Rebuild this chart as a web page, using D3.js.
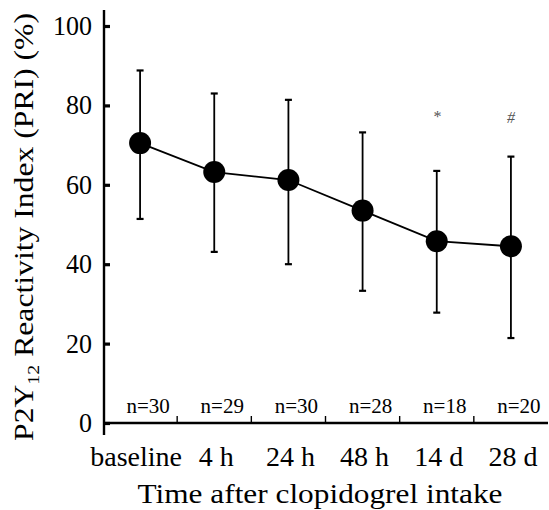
<!DOCTYPE html>
<html>
<head>
<meta charset="utf-8">
<script src="https://cdn.jsdelivr.net/npm/d3@7/dist/d3.min.js"></script>
<style>
  html, body { margin: 0; padding: 0; background: #fff; }
  svg { display: block; font-family: "Liberation Serif", "Times New Roman", "DejaVu Serif", serif; }
</style>
</head>
<body>
<svg id="chart" width="549" height="510"></svg>
<script>
// PRI over time after clopidogrel intake (mean ± SD)
const categories = ['baseline', '4 h', '24 h', '48 h', '14 d', '28 d'];
const means = [70.5, 63.2, 61.2, 53.5, 45.8, 44.5];
const upper = [88.8, 83.0, 81.4, 73.2, 63.5, 67.1];
const lower = [51.4, 43.1, 40.0, 33.3, 27.8, 21.4];
const nLabels = ['n=30', 'n=29', 'n=30', 'n=28', 'n=18', 'n=20'];
const marks = ['', '', '', '', '*', '#'];
const yTicks = [0, 20, 40, 60, 80, 100];

const svg = d3.select('#chart');
const x = d3.scaleBand().domain(categories).range([103, 548]);
const y = d3.scaleLinear().domain([0, 100]).range([423, 26]);
const cx = c => x(c) + x.bandwidth() / 2;

// axes lines
svg.append('line').attr('x1', 104).attr('x2', 104).attr('y1', 10).attr('y2', 435)
  .attr('stroke', '#000').attr('stroke-width', 2.4);
svg.append('line').attr('x1', 103).attr('x2', 548).attr('y1', y(0)).attr('y2', y(0))
  .attr('stroke', '#000').attr('stroke-width', 2.6);

// y ticks (inward)
const yAxis = d3.axisRight(y).tickValues(yTicks).tickSize(6).tickFormat('');
svg.append('g').attr('transform', 'translate(104,0)').call(yAxis)
  .call(g => g.select('.domain').remove())
  .call(g => g.selectAll('line').attr('stroke-width', 3.2));
svg.append('g').selectAll('text').data(yTicks).enter().append('text')
  .attr('x', 92).attr('y', d => y(d) + 9).attr('text-anchor', 'end')
  .attr('font-size', 27).attr('textLength', d => 13 * String(d).length).attr('lengthAdjust', 'spacingAndGlyphs')
  .text(d => d);

// x separators between groups (small upward ticks)
svg.append('g').selectAll('line').data(categories.slice(1)).enter().append('line')
  .attr('x1', d => x(d)).attr('x2', d => x(d)).attr('y1', y(0)).attr('y2', y(0) - 7)
  .attr('stroke', '#000').attr('stroke-width', 1.4);

// category labels
svg.append('g').selectAll('text').data(categories).enter().append('text')
  .attr('x', (d, i) => cx(d) + (i === 0 ? -4 : 2)).attr('y', 466).attr('text-anchor', 'middle')
  .attr('font-size', 28).text(d => d);

// n labels
svg.append('g').selectAll('text').data(nLabels).enter().append('text')
  .attr('x', (d, i) => cx(categories[i]) + 8).attr('y', 413).attr('text-anchor', 'middle')
  .attr('font-size', 21).text(d => d);

// error bars
const eb = svg.append('g').attr('stroke', '#000');
categories.forEach((c, i) => {
  eb.append('line').attr('x1', cx(c)).attr('x2', cx(c)).attr('y1', y(upper[i])).attr('y2', y(lower[i])).attr('stroke-width', 1.8);
  [upper[i], lower[i]].forEach(v => eb.append('line').attr('x1', cx(c) - 3.5).attr('x2', cx(c) + 3.5).attr('y1', y(v)).attr('y2', y(v)).attr('stroke-width', 2.2));
});

// mean line + markers
const line = d3.line().x((d, i) => cx(categories[i])).y(d => y(d));
svg.append('path').datum(means).attr('d', line).attr('fill', 'none').attr('stroke', '#000').attr('stroke-width', 1.8);
svg.append('g').selectAll('circle').data(means).enter().append('circle')
  .attr('cx', (d, i) => cx(categories[i])).attr('cy', d => y(d)).attr('r', 11).attr('fill', '#000');

// significance marks
svg.append('g').selectAll('text').data(marks).enter().append('text')
  .attr('x', (d, i) => cx(categories[i])).attr('y', (d, i) => i === 4 ? 122 : 123).attr('text-anchor', 'middle')
  .attr('font-size', 16).attr('fill', '#555').attr('font-style', 'italic').text(d => d);

// axis titles
svg.append('text').attr('x', 320).attr('y', 503).attr('text-anchor', 'middle')
  .attr('font-size', 28).attr('textLength', 365).attr('lengthAdjust', 'spacingAndGlyphs')
  .text('Time after clopidogrel intake');
const yt = svg.append('text').attr('transform', 'translate(33,227) rotate(-90)')
  .attr('text-anchor', 'middle').attr('font-size', 27)
  .attr('textLength', 428).attr('lengthAdjust', 'spacingAndGlyphs');
yt.append('tspan').text('P2Y');
yt.append('tspan').attr('font-size', 17).attr('dy', 6).text('12');
yt.append('tspan').attr('dy', -6).text(' Reactivity Index (PRI) (%)');
</script>
</body>
</html>
